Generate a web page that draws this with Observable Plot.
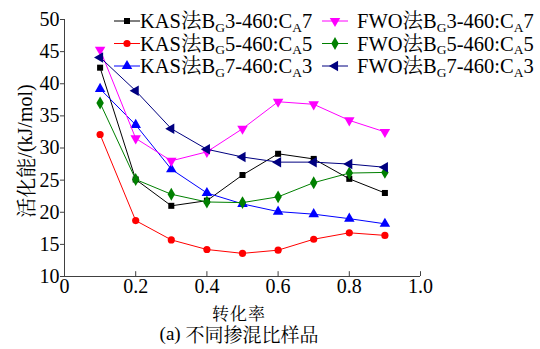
<!DOCTYPE html>
<html>
<head>
<meta charset="utf-8">
<script src="https://cdn.jsdelivr.net/npm/d3@7"></script>
<script src="https://cdn.jsdelivr.net/npm/@observablehq/plot@0.6"></script>
<style>
  html, body { margin: 0; padding: 0; background: #fff; }
  #chart { width: 540px; height: 349px; }
</style>
</head>
<body>
<div id="chart"></div>
<script>
// Conversion rate (x) and activation energy (kJ/mol) for each method / blend ratio
const conversion = [0.1, 0.2, 0.3, 0.4, 0.5, 0.6, 0.7, 0.8, 0.9];
const kasBG3 = [42.5, 25.1, 21.0, 21.8, 25.8, 29.1, 28.3, 25.2, 23.0];
const kasBG5 = [32.1, 18.7, 15.7, 14.2, 13.6, 14.1, 15.8, 16.8, 16.4];
const kasBG7 = [39.2, 33.6, 26.7, 23.0, 21.3, 20.1, 19.7, 19.0, 18.2];
const fwoBG3 = [45.3, 31.5, 28.0, 29.4, 33.0, 37.2, 36.8, 34.3, 32.5];
const fwoBG5 = [37.0, 25.1, 22.8, 21.6, 21.5, 22.4, 24.6, 26.1, 26.2];
const fwoBG7 = [44.1, 38.9, 33.0, 29.8, 28.6, 27.8, 27.8, 27.5, 27.0];

const xTicks = [0, 0.2, 0.4, 0.6, 0.8, 1.0];
const yTicks = [10, 15, 20, 25, 30, 35, 40, 45, 50];

const methods = ["KAS", "KAS", "KAS", "FWO", "FWO", "FWO"];
const bgParts = ["3", "5", "7", "3", "5", "7"];
const caParts = ["7", "5", "3", "7", "5", "3"];
const seriesValues = [kasBG3, kasBG5, kasBG7, fwoBG3, fwoBG5, fwoBG7];
const colors = ["#000000", "#ff0000", "#0000ff", "#ff00ff", "#008000", "#000080"];
const symbols = ["square", "circle", "triangle", "triangle", "diamond", "triangle"];
const rotations = [0, 0, 0, 180, 0, -90];
const sizes = [3.4, 3.6, 3.9, 3.9, 3.9, 3.9];

const axisColor = "#404040";
const serif = "'Liberation Serif', serif";
const cjk = "'Noto Serif CJK SC', 'Noto Sans CJK SC', sans-serif";

const seriesMarks = seriesValues.flatMap((vals, i) => {
  const rows = conversion.map((c, j) => ({x: c, y: vals[j]}));
  return [
    Plot.line(rows, {x: "x", y: "y", stroke: colors[i], strokeWidth: 1}),
    Plot.dot(rows, {x: "x", y: "y", symbol: symbols[i], rotate: rotations[i], r: sizes[i], fill: colors[i], stroke: "none"})
  ];
});

const chart = Plot.plot({
  width: 540,
  height: 349,
  marginLeft: 64,
  marginRight: 120,
  marginTop: 19,
  marginBottom: 73,
  x: {domain: [0, 1]},
  y: {domain: [10, 50]},
  style: {fontFamily: serif, fontSize: "20px", color: "#000", background: "#fff", overflow: "visible"},
  marks: [
    Plot.axisX({ticks: xTicks, tickSize: 0, tickPadding: 2, label: null,
      tickFormat: d => d === 0 ? "0" : d.toFixed(1)}),
    Plot.axisY({ticks: yTicks, tickSize: 4, tickPadding: 1, label: null, stroke: axisColor}),
    Plot.ruleX(xTicks.slice(1), {y1: 10, y2: 10.75, stroke: axisColor}),
    Plot.ruleY([10], {stroke: axisColor}),
    Plot.ruleX([0], {stroke: axisColor}),
    ...seriesMarks
  ]
});

document.getElementById("chart").appendChild(chart);

const svg = d3.select(chart);

// Mixed Latin / Chinese text: each script gets its own tspan and font
function run(text, parts) {
  parts.forEach(p => {
    const s = text.append("tspan").style("font-family", p.cjk ? cjk : serif).text(p.t);
    if (p.size) s.style("font-size", p.size);
    if (p.dy) s.attr("dy", p.dy);
  });
  return text;
}

// Axis titles and caption
run(svg.append("text")
  .attr("transform", "translate(25,151) rotate(-90)")
  .attr("text-anchor", "middle")
  .attr("dominant-baseline", "central")
  .style("font-size", "20px"),
  [{t: "活化能", cjk: true}, {t: "/(kJ/mol)"}]);

run(svg.append("text")
  .attr("x", 239).attr("y", 312)
  .attr("text-anchor", "middle")
  .attr("dominant-baseline", "central")
  .style("font-size", "17px")
  .style("letter-spacing", "1px"),
  [{t: "转化率", cjk: true}]);

run(svg.append("text")
  .attr("x", 239).attr("y", 333)
  .attr("text-anchor", "middle")
  .attr("dominant-baseline", "central")
  .style("font-size", "19px"),
  [{t: "(a) "}, {t: "不同掺混比样品", cjk: true}]);

// Legend: two columns of three entries
const symbolTypes = {square: d3.symbolSquare, circle: d3.symbolCircle, triangle: d3.symbolTriangle, diamond: d3.symbolDiamond};
const legend = svg.append("g")
  .style("font-size", "20.5px")
  .attr("text-anchor", "start");
seriesValues.forEach((_, i) => {
  const col = Math.floor(i / 3), row = i % 3;
  const lx = col === 0 ? 114 : 322;
  const ly = 21 + row * 22.5;
  const g = legend.append("g").attr("transform", `translate(${lx},${ly})`);
  g.append("line").attr("x1", 0).attr("x2", 26).attr("y1", 0).attr("y2", 0)
    .attr("stroke", colors[i]).attr("stroke-width", 1);
  g.append("path")
    .attr("d", d3.symbol(symbolTypes[symbols[i]], Math.PI * sizes[i] * sizes[i])())
    .attr("transform", `translate(13,0) rotate(${rotations[i]})`)
    .attr("fill", colors[i]);
  const t = g.append("text")
    .attr("text-anchor", "start")
    .attr("x", col === 0 ? 26 : 35).attr("y", 0).attr("dy", "0.35em");
  run(t, [
    {t: methods[i]},
    {t: "法", cjk: true},
    {t: "B"},
    {t: "G", size: "13.5px", dy: 3.5},
    {t: bgParts[i] + "-460:C", dy: -3.5},
    {t: "A", size: "13.5px", dy: 3.5},
    {t: caParts[i], dy: -3.5}
  ]);
});
</script>
</body>
</html>
